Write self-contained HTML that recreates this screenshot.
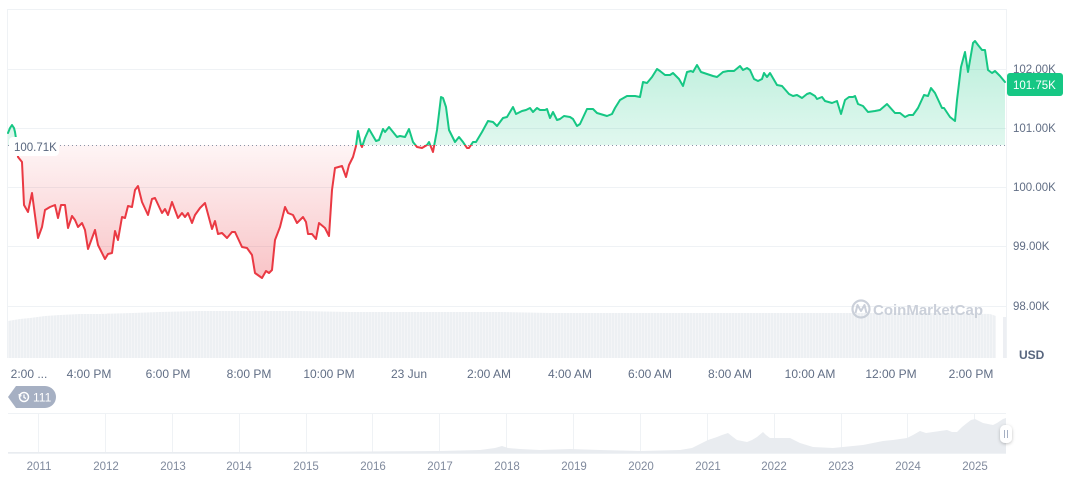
<!DOCTYPE html>
<html><head><meta charset="utf-8"><style>
html,body{margin:0;padding:0;background:#fff;}
svg{display:block;font-family:"Liberation Sans",Arial,sans-serif;}
</style></head><body>
<svg width="1072" height="477" viewBox="0 0 1072 477" xmlns="http://www.w3.org/2000/svg">
<defs>
<linearGradient id="gG" x1="0" y1="41" x2="0" y2="145" gradientUnits="userSpaceOnUse">
<stop offset="0" stop-color="#16c784" stop-opacity="0.30"/>
<stop offset="1" stop-color="#16c784" stop-opacity="0.13"/>
</linearGradient>
<linearGradient id="gR" x1="0" y1="145" x2="0" y2="278" gradientUnits="userSpaceOnUse">
<stop offset="0" stop-color="#ea3943" stop-opacity="0.05"/>
<stop offset="1" stop-color="#ea3943" stop-opacity="0.30"/>
</linearGradient>
<pattern id="vp" x="0" y="0" width="3" height="10" patternUnits="userSpaceOnUse">
<rect x="0" y="0" width="2" height="10" fill="#edf0f3"/>
<rect x="2" y="0" width="1" height="10" fill="#f4f5f7"/>
</pattern>
<clipPath id="cA"><rect x="0" y="0" width="1072" height="145"/></clipPath>
<clipPath id="cB"><rect x="0" y="145" width="1072" height="200"/></clipPath>
<filter id="sh" x="-50%" y="-50%" width="200%" height="200%"><feDropShadow dx="0" dy="1" stdDeviation="1.5" flood-color="#000" flood-opacity="0.25"/></filter>
</defs>

<!-- grid -->
<g stroke="#eff2f5" stroke-width="1">
<line x1="7" y1="9.5" x2="1006" y2="9.5"/>
<line x1="7" y1="69.5" x2="1006" y2="69.5"/>
<line x1="7" y1="128.5" x2="1006" y2="128.5"/>
<line x1="7" y1="187.5" x2="1006" y2="187.5"/>
<line x1="7" y1="246.5" x2="1006" y2="246.5"/>
<line x1="7" y1="306.5" x2="1006" y2="306.5"/>
<line x1="7.5" y1="9" x2="7.5" y2="358"/>
<line x1="1006.5" y1="9" x2="1006.5" y2="358"/>
</g>

<!-- volume -->
<polygon fill="url(#vp)" points="8,358 8,321 20,319 30,318 45,316 60,315 80,314 100,314 133,313 160,312 200,311 250,311 300,311 350,312 400,312 450,312 500,312 550,313 600,313 650,313 700,313 750,313 800,313 850,313 900,313 950,313 990,314 996,316 996,358"/>
<polygon fill="#edeff3" points="1003,358 1003,317 1006,317 1006,358"/>

<!-- watermark -->
<g opacity="0.9">
<circle cx="861" cy="309" r="8.5" fill="none" stroke="#c6ccd6" stroke-width="2.2"/>
<path d="M855.5,313 L857.5,305 L861,311 L864.5,305 L866.5,313" fill="none" stroke="#c6ccd6" stroke-width="2" stroke-linejoin="round"/>
<text x="873" y="315" font-size="15" font-weight="bold" fill="#c6ccd6">CoinMarketCap</text>
</g>

<!-- price fills -->
<g id="fills">
<polygon clip-path="url(#cA)" fill="url(#gG)" points="8,145 8,133 10,128 12,125 14,128 15,132 17,145 18,157 22,162 24,205 28,212 32,193 38,238 42,227 45,210 50,207 55,205 58,218 61,205 65,205 68,228 72,216 75,220 78,227 82,223 85,230 88,249 95,230 98,245 105,259 108,254 112,253 115,231 118,240 122,217 125,218 128,206 132,207 135,190 138,186 142,202 148,215 152,199 155,198 162,213 165,209 168,215 172,202 175,210 178,218 182,213 185,217 188,213 192,223 195,215 200,208 205,203 212,229 215,221 218,234 222,233 227,238 232,232 235,232 242,247 247,248 252,255 255,273 262,278 266,271 269,273 272,270 275,240 280,227 285,207 288,213 293,215 297,223 303,217 306,222 308,234 312,234 316,239 319,223 325,228 329,236 332,190 335,168 342,166 346,177 349,165 353,157 356,146 358,131 361,145 362,147 365,138 369,129 376,141 379,140 383,129 385,132 389,127 397,137 400,136 405,137 409,129 413,142 417,147 422,148 427,145 429,142 433,152 437,130 441,97 443,98 446,107 449,130 455,142 459,137 463,142 467,148 469,148 473,142 476,142 482,132 488,121 493,122 497,126 503,118 507,117 513,107 516,114 522,111 526,110 530,108 533,112 537,108 540,110 545,110 547,109 550,118 553,112 557,120 560,119 564,116 570,117 573,119 577,126 580,124 587,109 593,109 597,113 607,116 612,114 615,108 620,100 627,96 635,96 640,97 643,82 647,83 652,77 657,69 660,71 665,75 670,75 673,73 679,79 683,86 687,72 691,71 693,72 697,65 701,72 707,74 713,76 717,77 723,72 728,71 734,71 740,66 743,70 747,68 750,70 754,79 758,81 762,79 764,73 767,77 770,73 777,85 782,86 789,94 793,96 797,95 802,98 807,94 810,93 815,96 817,99 822,97 825,101 832,103 837,101 841,114 845,100 849,97 853,97 855,96 858,104 863,106 868,112 875,111 880,110 887,104 895,113 900,113 905,117 909,115 913,115 918,108 924,95 928,96 931,88 935,93 942,108 944,108 950,117 955,121 957,100 961,67 965,52 968,72 973,43 975,41 978,45 982,50 985,50 988,70 992,73 995,71 1000,76 1005,82 1005,145"/>
<polygon clip-path="url(#cB)" fill="url(#gR)" points="8,145 8,133 10,128 12,125 14,128 15,132 17,145 18,157 22,162 24,205 28,212 32,193 38,238 42,227 45,210 50,207 55,205 58,218 61,205 65,205 68,228 72,216 75,220 78,227 82,223 85,230 88,249 95,230 98,245 105,259 108,254 112,253 115,231 118,240 122,217 125,218 128,206 132,207 135,190 138,186 142,202 148,215 152,199 155,198 162,213 165,209 168,215 172,202 175,210 178,218 182,213 185,217 188,213 192,223 195,215 200,208 205,203 212,229 215,221 218,234 222,233 227,238 232,232 235,232 242,247 247,248 252,255 255,273 262,278 266,271 269,273 272,270 275,240 280,227 285,207 288,213 293,215 297,223 303,217 306,222 308,234 312,234 316,239 319,223 325,228 329,236 332,190 335,168 342,166 346,177 349,165 353,157 356,146 358,131 361,145 362,147 365,138 369,129 376,141 379,140 383,129 385,132 389,127 397,137 400,136 405,137 409,129 413,142 417,147 422,148 427,145 429,142 433,152 437,130 441,97 443,98 446,107 449,130 455,142 459,137 463,142 467,148 469,148 473,142 476,142 482,132 1005,145"/>
</g>

<!-- baseline -->
<line x1="8" y1="145.5" x2="1005" y2="145.5" stroke="#8a94a6" stroke-width="1" stroke-dasharray="1,3"/>

<!-- price line -->
<g fill="none" stroke-width="2" stroke-linejoin="round" stroke-linecap="round">
<polyline id="pl" clip-path="url(#cA)" stroke="#16c784" points="8,133 10,128 12,125 14,128 15,132 17,145 18,157 22,162 24,205 28,212 32,193 38,238 42,227 45,210 50,207 55,205 58,218 61,205 65,205 68,228 72,216 75,220 78,227 82,223 85,230 88,249 95,230 98,245 105,259 108,254 112,253 115,231 118,240 122,217 125,218 128,206 132,207 135,190 138,186 142,202 148,215 152,199 155,198 162,213 165,209 168,215 172,202 175,210 178,218 182,213 185,217 188,213 192,223 195,215 200,208 205,203 212,229 215,221 218,234 222,233 227,238 232,232 235,232 242,247 247,248 252,255 255,273 262,278 266,271 269,273 272,270 275,240 280,227 285,207 288,213 293,215 297,223 303,217 306,222 308,234 312,234 316,239 319,223 325,228 329,236 332,190 335,168 342,166 346,177 349,165 353,157 356,146 358,131 361,145 362,147 365,138 369,129 376,141 379,140 383,129 385,132 389,127 397,137 400,136 405,137 409,129 413,142 417,147 422,148 427,145 429,142 433,152 437,130 441,97 443,98 446,107 449,130 455,142 459,137 463,142 467,148 469,148 473,142 476,142 482,132 488,121 493,122 497,126 503,118 507,117 513,107 516,114 522,111 526,110 530,108 533,112 537,108 540,110 545,110 547,109 550,118 553,112 557,120 560,119 564,116 570,117 573,119 577,126 580,124 587,109 593,109 597,113 607,116 612,114 615,108 620,100 627,96 635,96 640,97 643,82 647,83 652,77 657,69 660,71 665,75 670,75 673,73 679,79 683,86 687,72 691,71 693,72 697,65 701,72 707,74 713,76 717,77 723,72 728,71 734,71 740,66 743,70 747,68 750,70 754,79 758,81 762,79 764,73 767,77 770,73 777,85 782,86 789,94 793,96 797,95 802,98 807,94 810,93 815,96 817,99 822,97 825,101 832,103 837,101 841,114 845,100 849,97 853,97 855,96 858,104 863,106 868,112 875,111 880,110 887,104 895,113 900,113 905,117 909,115 913,115 918,108 924,95 928,96 931,88 935,93 942,108 944,108 950,117 955,121 957,100 961,67 965,52 968,72 973,43 975,41 978,45 982,50 985,50 988,70 992,73 995,71 1000,76 1005,82"/>
</g>
<polyline clip-path="url(#cB)" fill="none" stroke="#ea3943" stroke-width="2" stroke-linejoin="round" stroke-linecap="round" points="8,133 10,128 12,125 14,128 15,132 17,145 18,157 22,162 24,205 28,212 32,193 38,238 42,227 45,210 50,207 55,205 58,218 61,205 65,205 68,228 72,216 75,220 78,227 82,223 85,230 88,249 95,230 98,245 105,259 108,254 112,253 115,231 118,240 122,217 125,218 128,206 132,207 135,190 138,186 142,202 148,215 152,199 155,198 162,213 165,209 168,215 172,202 175,210 178,218 182,213 185,217 188,213 192,223 195,215 200,208 205,203 212,229 215,221 218,234 222,233 227,238 232,232 235,232 242,247 247,248 252,255 255,273 262,278 266,271 269,273 272,270 275,240 280,227 285,207 288,213 293,215 297,223 303,217 306,222 308,234 312,234 316,239 319,223 325,228 329,236 332,190 335,168 342,166 346,177 349,165 353,157 356,146 358,131 361,145 362,147 365,138 369,129 376,141 379,140 383,129 385,132 389,127 397,137 400,136 405,137 409,129 413,142 417,147 422,148 427,145 429,142 433,152 437,130 441,97 443,98 446,107 449,130 455,142 459,137 463,142 467,148 469,148 473,142 476,142 482,132"/>

<!-- baseline label -->
<rect x="9" y="137" width="50" height="19" rx="4" fill="#fff"/>
<text x="14" y="151" font-size="11.5" fill="#58667e">100.71K</text>

<!-- y axis labels -->
<g font-size="11.5" fill="#616e85">
<text x="1013" y="73">102.00K</text>
<text x="1013" y="132">101.00K</text>
<text x="1013" y="191">100.00K</text>
<text x="1013" y="250">99.00K</text>
<text x="1013" y="310">98.00K</text>
</g>
<rect x="1007" y="73" width="56" height="23" rx="3" fill="#16c784"/>
<text x="1013" y="89" font-size="11.5" fill="#ffffff">101.75K</text>
<text x="1019" y="359" font-size="12" font-weight="bold" fill="#58667e">USD</text>

<!-- x axis labels -->
<g font-size="12" fill="#616e85" text-anchor="middle">
<text x="29" y="378">2:00 ...</text>
<text x="89" y="378">4:00 PM</text>
<text x="168" y="378">6:00 PM</text>
<text x="249" y="378">8:00 PM</text>
<text x="329" y="378">10:00 PM</text>
<text x="409" y="378">23 Jun</text>
<text x="489" y="378">2:00 AM</text>
<text x="570" y="378">4:00 AM</text>
<text x="650" y="378">6:00 AM</text>
<text x="730" y="378">8:00 AM</text>
<text x="810" y="378">10:00 AM</text>
<text x="891" y="378">12:00 PM</text>
<text x="971" y="378">2:00 PM</text>
</g>

<!-- 111 badge -->
<path d="M8,397 L16,386 L45,386 A11,11 0 0 1 45,408 L16,408 Z" fill="#a6b0c3"/>
<circle cx="24" cy="397" r="4.5" fill="none" stroke="#fff" stroke-width="1.5"/>
<path d="M24,394.5 L24,397.5 L26,398.5" fill="none" stroke="#fff" stroke-width="1.3"/>
<path d="M19,394 L19.5,396.5 L21.5,395.5" fill="none" stroke="#fff" stroke-width="1.2"/>
<text x="33" y="401.5" font-size="12" fill="#ffffff">111</text>

<!-- navigator -->
<g stroke="#eff2f5" stroke-width="1">
<line x1="8" y1="413.5" x2="1006" y2="413.5"/>
<line x1="8" y1="453.5" x2="1006" y2="453.5"/>
<line x1="38.5" y1="413" x2="38.5" y2="453"/>
<line x1="105.5" y1="413" x2="105.5" y2="453"/>
<line x1="172.5" y1="413" x2="172.5" y2="453"/>
<line x1="239.5" y1="413" x2="239.5" y2="453"/>
<line x1="306.5" y1="413" x2="306.5" y2="453"/>
<line x1="372.5" y1="413" x2="372.5" y2="453"/>
<line x1="439.5" y1="413" x2="439.5" y2="453"/>
<line x1="506.5" y1="413" x2="506.5" y2="453"/>
<line x1="573.5" y1="413" x2="573.5" y2="453"/>
<line x1="640.5" y1="413" x2="640.5" y2="453"/>
<line x1="707.5" y1="413" x2="707.5" y2="453"/>
<line x1="774.5" y1="413" x2="774.5" y2="453"/>
<line x1="841.5" y1="413" x2="841.5" y2="453"/>
<line x1="907.5" y1="413" x2="907.5" y2="453"/>
<line x1="974.5" y1="413" x2="974.5" y2="453"/>
</g>
<polygon fill="#e9ecf0" points="8,453 8,452 300,452 440,451 480,450 495,448 502,446 508,448 520,449 540,450 570,449 600,450 641,451 680,450 692,448 700,444 708,440 717,437 722,435 728,433 733,437 737,440 742,441 747,442 752,440 757,437 763,432 766,435 770,438 780,438 790,438 800,443 813,447 833,448 853,446 863,445 873,443 883,441 893,440 907,438 913,435 920,431 926,433 933,432 940,431 947,430 952,432 957,432 962,427 967,423 971,420 975,419 979,421 983,423 988,424 993,425 997,423 1000,421 1003,419 1006,418 1006,453"/>
<rect x="1000" y="425" width="12" height="18" rx="5" fill="#fff" filter="url(#sh)"/>
<line x1="1004.5" y1="430" x2="1004.5" y2="438" stroke="#a6b0c3" stroke-width="1"/>
<line x1="1007.5" y1="430" x2="1007.5" y2="438" stroke="#a6b0c3" stroke-width="1"/>

<g font-size="11.5" fill="#808a9d" text-anchor="middle">
<text x="39" y="470">2011</text>
<text x="106" y="470">2012</text>
<text x="173" y="470">2013</text>
<text x="239" y="470">2014</text>
<text x="306" y="470">2015</text>
<text x="373" y="470">2016</text>
<text x="440" y="470">2017</text>
<text x="507" y="470">2018</text>
<text x="574" y="470">2019</text>
<text x="641" y="470">2020</text>
<text x="708" y="470">2021</text>
<text x="774" y="470">2022</text>
<text x="841" y="470">2023</text>
<text x="908" y="470">2024</text>
<text x="975" y="470">2025</text>
</g>
</svg>
</body></html>
